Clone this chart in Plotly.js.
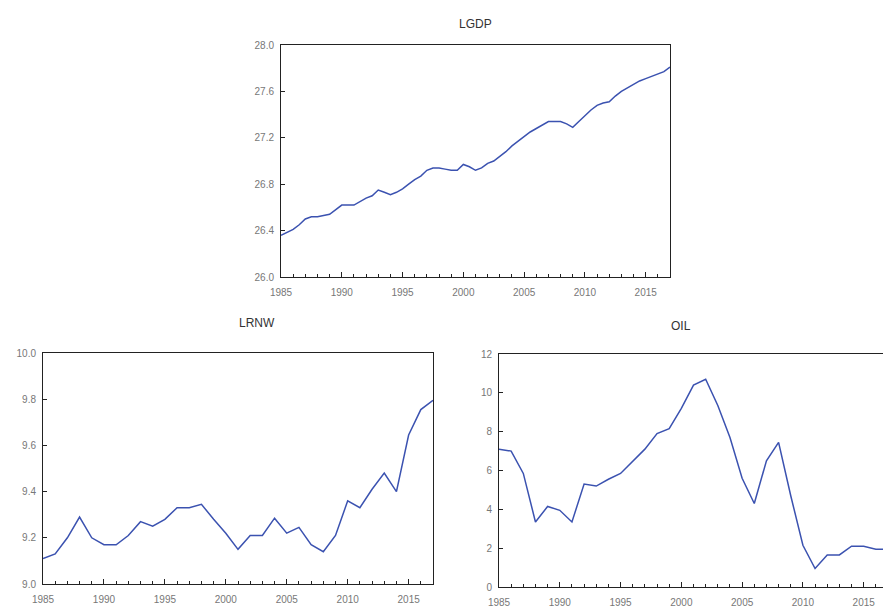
<!DOCTYPE html>
<html>
<head>
<meta charset="utf-8">
<script src="https://cdn.plot.ly/plotly-3.0.1.min.js"></script>
<style>
html,body{margin:0;padding:0;overflow:hidden;background:#fff;}
#chart{width:900px;height:611px;}
</style>
</head>
<body>
<div id="chart"></div>
<script>
// LGDP (half-yearly readings)
const lgdpYears = [1985,1986,1986.5,1987,1987.5,1988,1989,1989.5,1990,1991,1991.5,1992,1992.5,1993,1993.5,1994,1994.5,1995,1995.5,1996,1996.5,1997,1997.5,1998,1998.5,1999,1999.5,2000,2000.5,2001,2001.5,2002,2002.5,2003,2003.5,2004,2004.5,2005,2005.5,2006,2006.5,2007,2007.5,2008,2008.5,2009,2009.5,2010,2010.5,2011,2011.5,2012,2012.5,2013,2013.5,2014,2014.5,2015,2015.5,2016,2016.5,2017];
const lgdp = [26.36,26.41,26.45,26.50,26.52,26.52,26.54,26.58,26.62,26.62,26.65,26.68,26.70,26.75,26.73,26.71,26.73,26.76,26.80,26.84,26.87,26.92,26.94,26.94,26.93,26.92,26.92,26.97,26.95,26.92,26.94,26.98,27.00,27.04,27.08,27.13,27.17,27.21,27.25,27.28,27.31,27.34,27.34,27.34,27.32,27.29,27.34,27.39,27.44,27.48,27.50,27.51,27.56,27.60,27.63,27.66,27.69,27.71,27.73,27.745,27.77,27.81];

// LRNW and OIL (annual)
const years = [1985,1986,1987,1988,1989,1990,1991,1992,1993,1994,1995,1996,1997,1998,1999,2000,2001,2002,2003,2004,2005,2006,2007,2008,2009,2010,2011,2012,2013,2014,2015,2016,2017];
const lrnw = [9.11,9.13,9.20,9.29,9.20,9.17,9.17,9.21,9.27,9.25,9.28,9.33,9.33,9.345,9.28,9.22,9.15,9.21,9.21,9.285,9.22,9.245,9.17,9.14,9.21,9.36,9.33,9.41,9.48,9.40,9.645,9.755,9.795];
const oil = [7.1,7.0,5.85,3.35,4.15,3.95,3.35,5.3,5.2,5.55,5.85,6.45,7.1,7.9,8.15,9.2,10.4,10.7,9.35,7.7,5.6,4.3,6.5,7.45,4.7,2.15,0.95,1.65,1.65,2.1,2.1,1.95,1.95];

const lineColor = '#3b52b0';
const tickFont = {family:'Liberation Sans, Arial, sans-serif', size:10, color:'#777'};

function xa(domain, anchor){
  return {domain:domain, anchor:anchor, range:[1985,2017], dtick:5, tick0:1985,
    ticks:'inside', ticklen:5, tickcolor:'#222', tickwidth:1, ticklabelstandoff:6,
    minor:{dtick:1, tick0:1985, ticks:'inside', ticklen:3, tickcolor:'#222', showgrid:false},
    showline:true, mirror:true, linecolor:'#222', linewidth:1,
    showgrid:false, zeroline:false, tickfont:tickFont, fixedrange:true};
}
function ya(domain, anchor, range, dtick, fmt){
  return {domain:domain, anchor:anchor, range:range, dtick:dtick, tick0:range[0],
    tickformat:fmt, ticks:'inside', ticklen:4, tickcolor:'#222', ticklabelstandoff:4,
    showline:true, mirror:true, linecolor:'#222', linewidth:1,
    showgrid:false, zeroline:false, tickfont:tickFont, fixedrange:true};
}

const W = 900, H = 611;
const traces = [
  {x:lgdpYears, y:lgdp, xaxis:'x', yaxis:'y', type:'scatter', mode:'lines', line:{color:lineColor, width:1.5}},
  {x:years, y:lrnw, xaxis:'x2', yaxis:'y2', type:'scatter', mode:'lines', line:{color:lineColor, width:1.5}},
  {x:years, y:oil, xaxis:'x3', yaxis:'y3', type:'scatter', mode:'lines', line:{color:lineColor, width:1.5}}
];

const layout = {
  width:W, height:H, showlegend:false,
  margin:{l:0,r:0,t:0,b:0},
  paper_bgcolor:'#fff', plot_bgcolor:'#fff',
  xaxis: xa([281/W, 670/W], 'y'),
  yaxis: ya([(H-277)/H, (H-45)/H], 'x', [26.0,28.0], 0.4, '.1f'),
  xaxis2: xa([43/W, 433/W], 'y2'),
  yaxis2: ya([(H-584)/H, (H-353)/H], 'x2', [9.0,10.0], 0.2, '.1f'),
  xaxis3: xa([499/W, 888/W], 'y3'),
  yaxis3: ya([(H-587)/H, (H-354)/H], 'x3', [0,12], 2, 'd'),
  annotations:[
    {text:'LGDP', x:475/W, y:(H-15)/H, xref:'paper', yref:'paper', showarrow:false, font:{family:'Liberation Sans, Arial, sans-serif', size:12, color:'#333'}},
    {text:'LRNW', x:237/W, y:(H-323)/H, xref:'paper', yref:'paper', showarrow:false, font:{family:'Liberation Sans, Arial, sans-serif', size:12, color:'#333'}},
    {text:'OIL', x:693/W, y:(H-326)/H, xref:'paper', yref:'paper', showarrow:false, font:{family:'Liberation Sans, Arial, sans-serif', size:12, color:'#333'}}
  ]
};

Plotly.newPlot('chart', traces, layout, {staticPlot:true, displayModeBar:false});
</script>
</body>
</html>
